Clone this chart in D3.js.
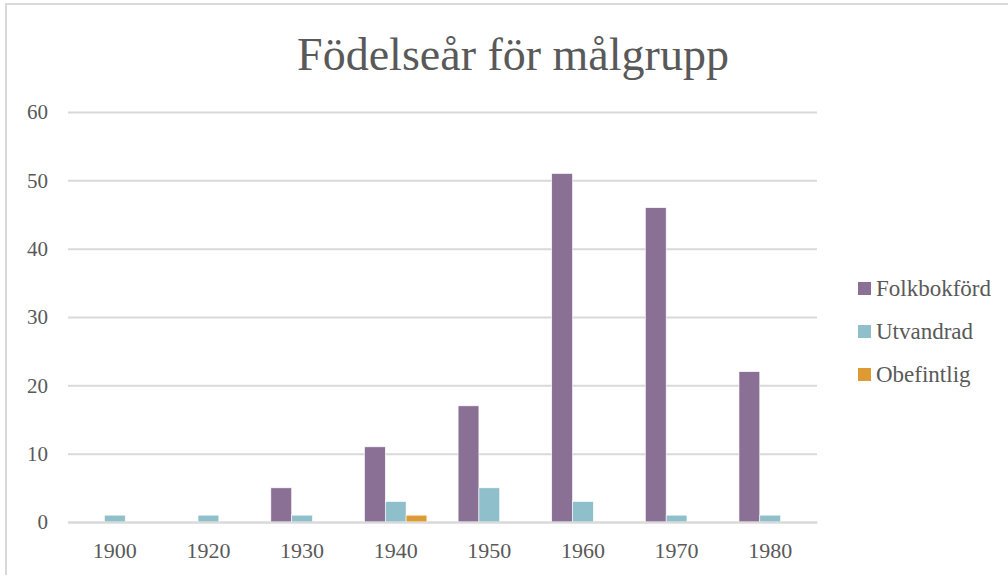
<!DOCTYPE html>
<html><head><meta charset="utf-8">
<script src="https://cdn.jsdelivr.net/npm/d3@7"></script>
<style>body{margin:0;background:#fff}svg{display:block}text{font-family:"Liberation Serif",serif;fill:#595959}</style>
</head><body>
<script>
const categories = ["1900","1920","1930","1940","1950","1960","1970","1980"];
const seriesNames = ["Folkbokförd","Utvandrad","Obefintlig"];
const folkbokford = [0,0,5,11,17,51,46,22];
const utvandrad = [1,1,1,3,5,3,1,1];
const obefintlig = [0,0,0,1,0,0,0,0];
const yTicks = [0,10,20,30,40,50,60];
const colors = ["#8B7095","#8FBFCA","#DF9B33"];
const seriesValues = [folkbokford, utvandrad, obefintlig];

const W=1008,H=575;
const svg=d3.select("body").append("svg").attr("width",W).attr("height",H);
svg.append("rect").attr("x",6).attr("y",4).attr("width",W+10).attr("height",H+10)
  .attr("fill","#fff").attr("stroke","#d9d9d9").attr("stroke-width",2);

const x=d3.scaleBand().domain(categories).range([68,817]);
const y=d3.scaleLinear().domain([0,60]).range([522,112]);
const groupW=x.bandwidth()/1.5;
const xs=d3.scaleBand().domain(seriesNames).range([0,groupW]);

svg.append("text").attr("x",513).attr("y",70).attr("text-anchor","middle")
  .attr("font-size",46).text("Födelseår för målgrupp");

const yAxis=d3.axisLeft(y).tickValues(yTicks).tickSize(-(817-68)).tickPadding(20);
const gy=svg.append("g").attr("transform","translate(68,0)").call(yAxis);
gy.select(".domain").remove();
gy.selectAll(".tick line").attr("stroke","#d9d9d9").attr("stroke-width",2);
gy.selectAll(".tick text").attr("font-size",21).attr("fill","#595959").attr("x",-20);

const rows=categories.map((c,i)=>({c,vals:seriesValues.map(s=>s[i])}));
const g=svg.append("g");
seriesNames.forEach((name,si)=>{
  g.selectAll(".b"+si).data(rows).enter().append("rect")
    .attr("x",d=>x(d.c)+(x.bandwidth()-groupW)/2+xs(name))
    .attr("width",xs.bandwidth())
    .attr("y",d=>y(d.vals[si]))
    .attr("height",d=>y(0)-y(d.vals[si]))
    .attr("fill",colors[si]).attr("stroke","#fff").attr("stroke-width",0.6);
});

const xAxis=d3.axisBottom(x).tickSize(0).tickPadding(20);
const gx=svg.append("g").attr("transform","translate(0,522)").call(xAxis);
gx.select(".domain").attr("stroke","#d9d9d9").attr("stroke-width",2);
gx.selectAll(".tick text").attr("font-size",22).attr("fill","#595959");

const lg=svg.append("g");
seriesNames.forEach((name,i)=>{
  const yy=289+i*43;
  lg.append("rect").attr("x",858).attr("y",yy-7).attr("width",13).attr("height",13).attr("fill",colors[i]);
  lg.append("text").attr("x",876).attr("y",yy+7).attr("font-size",23).text(name);
});
</script>
</body></html>
